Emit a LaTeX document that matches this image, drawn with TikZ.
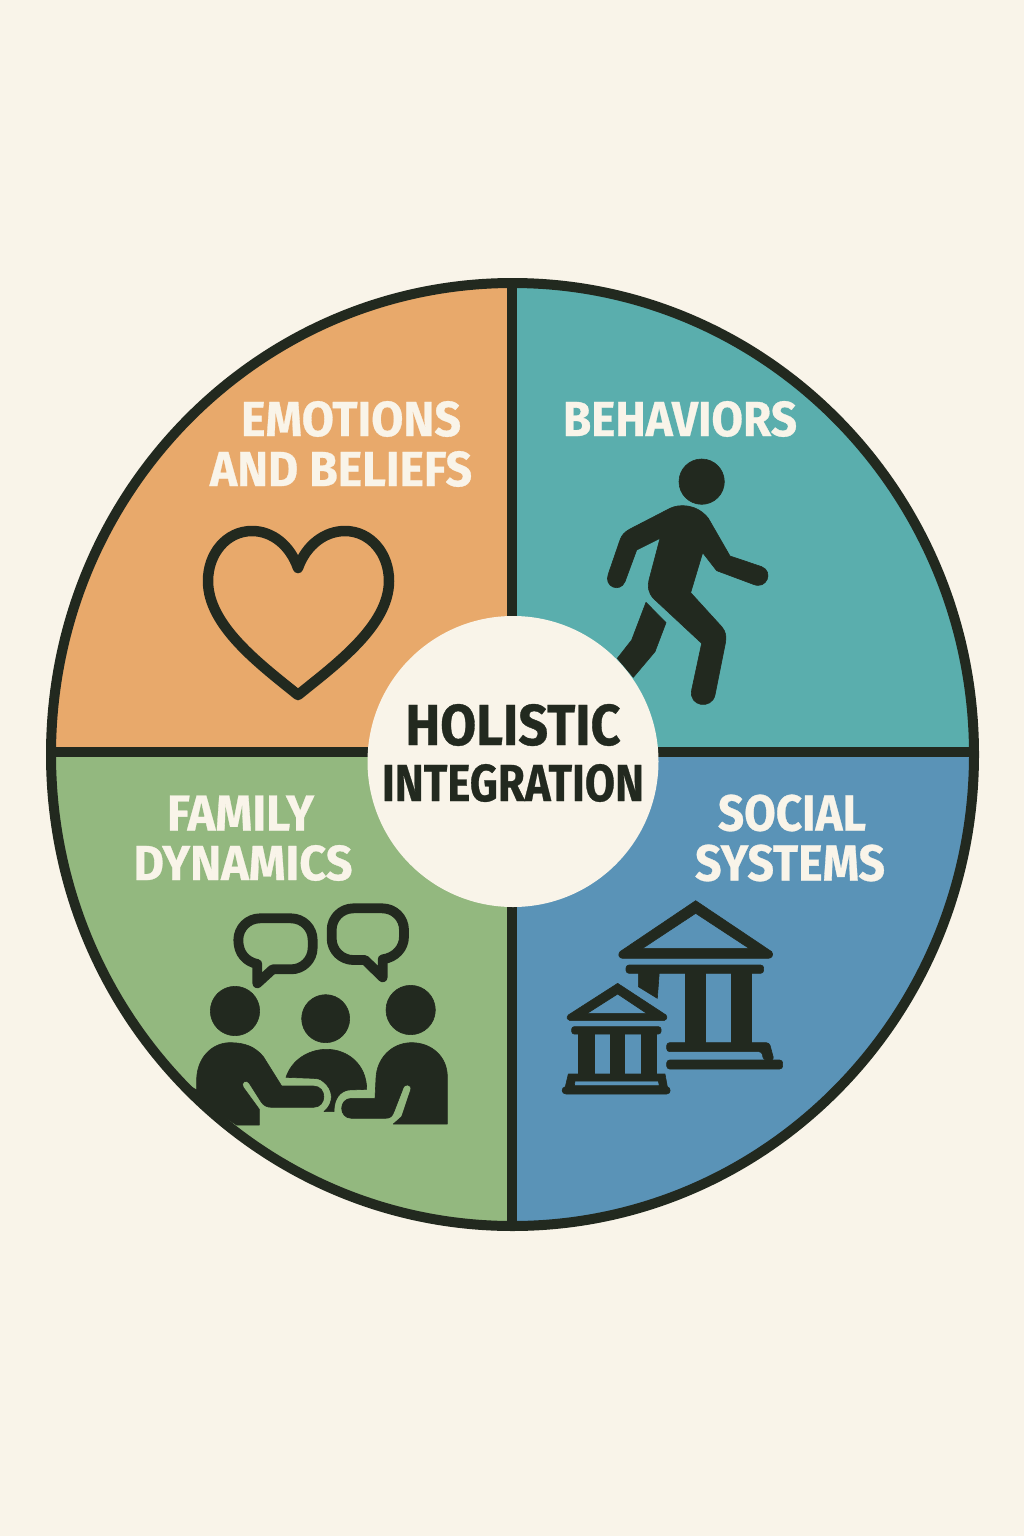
\documentclass[tikz,border=0pt]{standalone}
\usepackage{fontspec}
\usepackage{graphicx}
\setmainfont{Fira Sans}[BoldFeatures={FakeBold=0.6}]
\definecolor{bgc}{HTML}{F9F4E9}
\definecolor{ink}{HTML}{22291F}
\definecolor{orangeq}{HTML}{E8A96B}
\definecolor{tealq}{HTML}{5AAEAD}
\definecolor{greenq}{HTML}{93B87F}
\definecolor{blueq}{HTML}{5A93B7}
\newcommand{\fitlabel}[3]{\resizebox{#2pt}{#3pt}{\bfseries #1}}
\tikzset{
  lightlabel/.style={text=bgc,inner sep=0pt,anchor=center},
  darklabel/.style={text=ink,inner sep=0pt,anchor=center},
  solidicon/.style={fill=ink,draw=ink,line width=0.6pt,line join=round},
  lineicon/.style={draw=ink,fill=none,line join=round,line cap=round},
  divider/.style={draw=ink,line width=10pt},
  ring/.style={draw=ink,line width=10pt}
}
\begin{document}
\begin{tikzpicture}[x=1pt,y=-1pt]
\useasboundingbox (0,0) rectangle (1024,1536);
\fill[bgc] (0,0) rectangle (1024,1536);
% quadrants
\begin{scope}
\clip (512,754) ellipse [x radius=462,y radius=472];
\fill[orangeq] (40,270) rectangle (512,751);
\fill[tealq] (512,270) rectangle (990,751);
\fill[greenq] (40,751) rectangle (512,1240);
\fill[blueq] (512,751) rectangle (990,1240);
% family icon bodies (clipped by the ring)
\begin{scope}[shift={(180,890)},scale=1/3]
\fill[solidicon] (50,570) .. controls (50,505) and (95,458) .. (150,458)
  .. controls (195,458) and (225,470) .. (250,500) -- (305,588) -- (400,588)
  .. controls (442,588) and (442,652) .. (400,652) -- (275,652)
  .. controls (258,652) and (250,645) .. (243,635) -- (208,580)
  .. controls (200,565) and (180,578) .. (190,592) -- (238,658) -- (238,705) -- (170,705)
  -- (100,660) -- (-20,560) -- (50,600) -- cycle;
\end{scope}
\end{scope}
% walker back leg (partly under the centre disc)
\begin{scope}[shift={(590,450)},scale=1/3]
\fill[solidicon] (168,457) -- (228,518) -- (195,605) -- (130,682) -- (82,625) -- (125,570) -- cycle;
\fill[solidicon] (335,95) circle [radius=68];
\fill[solidicon] (240,175) .. controls (265,162) and (320,160) .. (355,205) -- (420,318) -- (515,350)
  .. controls (552,365) and (530,420) .. (490,403) -- (380,362) -- (338,308) -- (302,428) -- (395,530)
  .. controls (408,545) and (410,560) .. (406,580) -- (375,735)
  .. controls (365,780) and (295,770) .. (305,720) -- (335,580) -- (190,445)
  .. controls (175,428) and (172,410) .. (177,390) -- (210,265) -- (140,300) -- (105,395)
  .. controls (90,430) and (40,410) .. (55,372) -- (90,270) .. controls (95,255) and (105,245) .. (120,237) -- cycle;
\end{scope}
% heart
\draw[lineicon,line width=10.5pt] (298,568) .. controls (306,545) and (325,531) .. (345,531)
  .. controls (370,531) and (389,553) .. (389,581)
  .. controls (389,626) and (335,665) .. (298,695)
  .. controls (261,665) and (208,626) .. (208,581)
  .. controls (208,553) and (227,531) .. (252,531)
  .. controls (272,531) and (290,545) .. (298,568) -- cycle;
% family icon remainder
\begin{scope}[shift={(180,890)},scale=1/3]
\fill[solidicon] (165,363) circle [radius=74];
\fill[solidicon] (437,386) circle [radius=72];
\fill[solidicon] (692,360) circle [radius=74];
\fill[solidicon] (318,562) .. controls (335,510) and (385,478) .. (440,478)
  .. controls (505,478) and (560,525) .. (560,598) -- (505,600)
  .. controls (480,605) and (462,625) .. (462,665) -- (432,665)
  .. controls (462,640) and (462,600) .. (430,575) .. controls (420,566) and (410,565) .. (400,565) -- cycle;
\fill[solidicon] (588,565) .. controls (590,505) and (635,458) .. (695,458)
  .. controls (755,458) and (802,500) .. (802,560) -- (802,702) -- (640,702) -- (665,680)
  -- (692,600) .. controls (697,582) and (672,578) .. (668,598) -- (642,665)
  .. controls (637,680) and (630,685) .. (615,685) -- (515,685)
  .. controls (475,685) and (475,625) .. (515,625) -- (585,625) -- cycle;
\draw[lineicon,line width=9.8pt] (240,85) -- (333,85) .. controls (369,85) and (398,114) .. (398,150)
  -- (398,173) .. controls (398,209) and (369,238) .. (333,238) -- (278,238) -- (232,280) -- (232,222)
  .. controls (198,215) and (175,190) .. (175,150) .. controls (175,114) and (204,85) .. (240,85) -- cycle;
\draw[lineicon,line width=9.8pt] (520,55) -- (607,55) .. controls (643,55) and (672,84) .. (672,120)
  -- (672,140) .. controls (672,175) and (645,203) .. (608,208) -- (608,262) -- (555,210) -- (520,210)
  .. controls (484,210) and (455,181) .. (455,145) -- (455,120) .. controls (455,84) and (484,55) .. (520,55) -- cycle;
\end{scope}
% temples
\begin{scope}[shift={(550,890)},scale=1/3]
\fill[solidicon,even odd rule] (437,32) -- (665,185) .. controls (672,195) and (665,205) .. (655,205) -- (218,205)
  .. controls (208,205) and (202,195) .. (210,185) -- cycle
  (437,70) -- (597,175) -- (278,175) -- cycle;
\fill[solidicon,rounded corners=3pt] (228,225) rectangle (641,250);
\fill[solidicon] (405,245) rectangle (467,460);
\fill[solidicon] (543,245) rectangle (605,460);
\fill[solidicon] (265,245) -- (328,245) -- (322,325) -- (265,290) -- cycle;
\fill[solidicon,rounded corners=3pt] (350,458) -- (658,458) -- (672,510) -- (640,510) -- (636,485) -- (350,485) -- cycle;
\fill[solidicon,rounded corners=3pt] (350,510) rectangle (698,537);
\fill[solidicon,even odd rule] (203,280) -- (348,375) .. controls (353,382) and (350,392) .. (342,392) -- (60,392)
  .. controls (52,392) and (48,382) .. (55,375) -- cycle
  (203,312) -- (290,370) -- (112,370) -- cycle;
\fill[solidicon,rounded corners=2.5pt] (65,410) rectangle (333,432);
\fill[solidicon] (85,428) rectangle (132,555);
\fill[solidicon] (180,428) rectangle (222,555);
\fill[solidicon] (273,428) rectangle (318,555);
\fill[solidicon,even odd rule] (55,552) -- (345,552) -- (352,590) .. controls (362,592) and (365,612) .. (350,612) -- (48,612)
  .. controls (33,612) and (33,592) .. (46,590) -- cycle
  (75,573) -- (325,573) -- (328,587) -- (73,587) -- cycle;
\end{scope}
% ring and dividers
\draw[divider] (512,285) -- (512,1225);
\draw[divider] (50,752) -- (975,752);
\draw[ring] (512.5,754.5) ellipse [x radius=461.5,y radius=471.5];
\fill[bgc] (513,761.5) circle [radius=145.5];
% labels
\node[lightlabel] (emo) at (351,419) {\fitlabel{EMOTIONS}{220}{35}};
\node[lightlabel] (bel) at (341,469) {\fitlabel{AND BELIEFS}{262}{35}};
\node[lightlabel] (beh) at (680,419) {\fitlabel{BEHAVIORS}{234}{35}};
\node[lightlabel] (fam) at (240.5,813) {\fitlabel{FAMILY}{147}{35}};
\node[lightlabel] (dyn) at (243,863) {\fitlabel{DYNAMICS}{219}{35}};
\node[lightlabel] (soc) at (792,813) {\fitlabel{SOCIAL}{148}{36}};
\node[lightlabel] (sys) at (790,863) {\fitlabel{SYSTEMS}{190}{36}};
\node[darklabel] (hol) at (513,725) {\fitlabel{HOLISTIC}{215}{41}};
\node[darklabel] (int) at (513,783) {\fitlabel{INTEGRATION}{262}{37}};
\end{tikzpicture}
\end{document}
